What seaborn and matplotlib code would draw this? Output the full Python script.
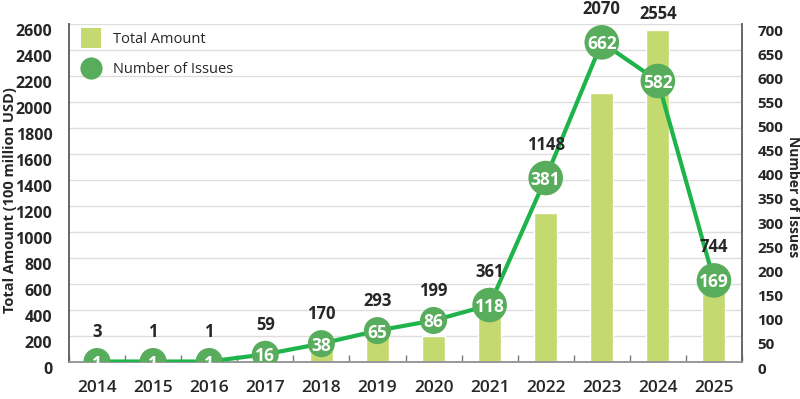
import numpy as np
import pandas as pd
import matplotlib
matplotlib.use("Agg")
import matplotlib.pyplot as plt
import seaborn as sns
from matplotlib.transforms import ScaledTranslation
from matplotlib.lines import Line2D

years = ["2014", "2015", "2016", "2017", "2018", "2019", "2020", "2021", "2022", "2023", "2024", "2025"]
amounts = [3, 1, 1, 59, 170, 293, 199, 361, 1148, 2070, 2554, 744]
issues = [1, 1, 1, 16, 38, 65, 86, 118, 381, 662, 582, 169]
left_ticks = list(range(0, 2601, 200))
right_ticks = list(range(0, 701, 50))

BAR = "#c4da70"
DOT = "#58ad5c"
LINE = "#1fb44b"

sns.set_theme(style="white")
plt.rcParams["font.family"] = ["Open Sans", "DejaVu Sans"]

df = pd.DataFrame({"year": years, "amount": amounts, "issues": issues, "pos": np.arange(len(years))})

fig = plt.figure(figsize=(8, 3.99), dpi=100)
ax = fig.add_axes([69/800, 1-362/399, (742-69)/800, (362-24)/399])
ax2 = ax.twinx()

sns.barplot(data=df, x="year", y="amount", color=BAR, width=0.41, ax=ax, saturation=1, zorder=2)
ax.set_xlim(-0.5, len(years)-0.5)
ax.set_ylim(0, 2600)
ax.set_yticks(left_ticks)
ax.yaxis.grid(True, color="#dddddd", linewidth=1)
ax.set_axisbelow(True)
ax.set_xlabel("")
ax.set_ylabel("Total Amount (100 million USD)", fontsize=10.5, fontweight="bold", va="center")
ax.yaxis.set_label_coords(-0.087, 0.48)
for a in (ax, ax2):
    a.spines["top"].set_visible(False)
    a.spines["left"].set_color("#666666")
    a.spines["right"].set_color("#666666")
    a.spines["bottom"].set_color("#999999")
    a.spines["left"].set_linewidth(1.2)
    a.spines["right"].set_linewidth(1.2)

ax2.set_ylim(0, 700)
ax2.set_yticks(right_ticks)
sns.lineplot(data=df, x="pos", y="issues", color=LINE, linewidth=3, ax=ax2, zorder=3)
digits = df["issues"].astype(str).str.len()
sizes = np.where(digits >= 3, 620, 380)
ax2.scatter(df["pos"], df["issues"], s=sizes, color=DOT, zorder=4, linewidths=0)
for x, v in zip(df["pos"], df["issues"]):
    ax2.text(x, v, str(v), color="white", fontsize=12.5, fontweight="bold",
             ha="center", va="center_baseline", zorder=5)
ax2.set_ylabel("Number of Issues", fontsize=10, fontweight="bold", rotation=-90, va="center")
ax2.yaxis.set_label_coords(1.0765, 0.49)
ax2.set_xlim(-0.5, len(years)-0.5)

# tick styling
ax.tick_params(axis="y", left=False, labelsize=11.5, pad=6)
ax2.tick_params(axis="y", right=False, labelsize=11, pad=5)
for lab in ax.get_yticklabels() + ax2.get_yticklabels():
    lab.set_fontweight("bold")
    lab.set_transform(lab.get_transform() + ScaledTranslation(0, -6/100, fig.dpi_scale_trans))
ax.tick_params(axis="x", bottom=False, labelsize=12.5, pad=7)
for lab in ax.get_xticklabels():
    lab.set_fontweight("semibold")
ax.set_xticks(np.arange(-0.5, len(years), 1), minor=True)
ax.tick_params(axis="x", which="minor", bottom=True, direction="in", length=5, width=1, color="#777777")
ax2.set_xlabel("")

# value labels above the higher of bar top and circle top
fig.canvas.draw()
for i, (a, n, d) in enumerate(zip(amounts, issues, digits)):
    bar_top = ax.transData.transform((i, a))[1]
    r = 17.5 if d >= 3 else 13.5
    circ_top = ax2.transData.transform((i, n))[1] + r
    top = max(bar_top, circ_top)
    ydata = ax2.transData.inverted().transform((0, top))[1]
    ax2.annotate(str(a), xy=(i, ydata), xytext=(0, 16*0.72), textcoords="offset points",
                 ha="center", va="center", fontsize=12, fontweight="bold", annotation_clip=False, zorder=6)

handles = [Line2D([], [], marker="s", color="none", markerfacecolor=BAR, markersize=14, markeredgewidth=0),
           Line2D([], [], marker="o", color="none", markerfacecolor=DOT, markersize=16, markeredgewidth=0)]
ax2.legend(handles, ["Total Amount", "Number of Issues"], loc="upper left", frameon=False,
           fontsize=10.5, handletextpad=0.9, handlelength=1.2, labelspacing=1.0,
           bbox_to_anchor=(0.0, 1.015))

fig.savefig("out.png", dpi=100)
